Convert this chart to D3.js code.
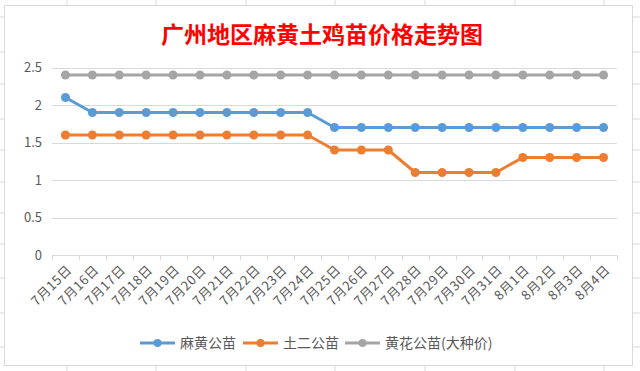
<!DOCTYPE html>
<html>
<head>
<meta charset="utf-8">
<script src="https://cdn.jsdelivr.net/npm/d3@7/dist/d3.min.js"></script>
<style>
  body { margin: 0; background: #fff; }
  svg { display: block; }
</style>
</head>
<body>
<div id="chart"></div>
<script>
// 数据
const dates = ["7月15日", "7月16日", "7月17日", "7月18日", "7月19日", "7月20日", "7月21日",
  "7月22日", "7月23日", "7月24日", "7月25日", "7月26日", "7月27日", "7月28日",
  "7月29日", "7月30日", "7月31日", "8月1日", "8月2日", "8月3日", "8月4日"];
const mahuang = [2.1, 1.9, 1.9, 1.9, 1.9, 1.9, 1.9, 1.9, 1.9, 1.9, 1.7, 1.7, 1.7, 1.7, 1.7, 1.7, 1.7, 1.7, 1.7, 1.7, 1.7];
const tuer = [1.6, 1.6, 1.6, 1.6, 1.6, 1.6, 1.6, 1.6, 1.6, 1.6, 1.4, 1.4, 1.4, 1.1, 1.1, 1.1, 1.1, 1.3, 1.3, 1.3, 1.3];
const huanghua = [2.4, 2.4, 2.4, 2.4, 2.4, 2.4, 2.4, 2.4, 2.4, 2.4, 2.4, 2.4, 2.4, 2.4, 2.4, 2.4, 2.4, 2.4, 2.4, 2.4, 2.4];
const seriesNames = ["麻黄公苗", "土二公苗", "黄花公苗(大种价)"];
const yTicks = [0, 0.5, 1, 1.5, 2, 2.5];

const colors = ["#5b9bd5", "#ed7d31", "#a5a5a5"];
const series = [mahuang, tuer, huanghua].map((vals, i) => ({ name: seriesNames[i], values: vals, color: colors[i] }));

const W = 640, H = 371;
const font = "'Noto Sans CJK SC', 'Noto Sans', sans-serif";
const gridColor = "#d9d9d9";
const textColor = "#595959";

const svg = d3.select("#chart").append("svg")
  .attr("width", W).attr("height", H);

// 表格背景网格
const colLines = [67, 156, 246, 335, 425, 515, 604];
const rowLines = [17, 52, 84, 119, 150, 182, 213, 244, 278, 313, 347];
svg.selectAll("line.col").data(colLines).enter().append("line")
  .attr("x1", d => d).attr("x2", d => d).attr("y1", 0).attr("y2", H)
  .attr("stroke", gridColor).attr("stroke-width", 1);
svg.selectAll("line.row").data(rowLines).enter().append("line")
  .attr("x1", 0).attr("x2", W).attr("y1", d => d).attr("y2", d => d)
  .attr("stroke", gridColor).attr("stroke-width", 1);

// 图表区
svg.append("rect")
  .attr("x", 4.5).attr("y", 5.5).attr("width", 628).attr("height", 360)
  .attr("fill", "#fff").attr("stroke", gridColor).attr("stroke-width", 1);

// 标题
svg.append("text")
  .attr("x", 322).attr("y", 43)
  .attr("text-anchor", "middle")
  .style("font-family", font)
  .style("font-size", "23px")
  .style("font-weight", "bold")
  .style("fill", "#ff0000")
  .text("广州地区麻黄土鸡苗价格走势图");

// 比例尺
const x = d3.scaleBand().domain(dates).range([52, 617]).padding(0);
const y = d3.scaleLinear().domain([0, 2.5]).range([255, 67.5]);

// 横向网格线
svg.append("g")
  .selectAll("line")
  .data(yTicks.filter(d => d > 0))
  .enter().append("line")
  .attr("x1", 52).attr("x2", 617)
  .attr("y1", d => Math.round(y(d)) + 0.5).attr("y2", d => Math.round(y(d)) + 0.5)
  .attr("stroke", gridColor).attr("stroke-width", 1);

// Y轴
const yAxis = svg.append("g")
  .attr("transform", "translate(52,0)")
  .call(d3.axisLeft(y).tickValues(yTicks).tickSize(0).tickPadding(10).tickFormat(d3.format("")));
yAxis.select(".domain").remove();
yAxis.selectAll("text")
  .style("font-family", font).style("font-size", "13px").style("fill", textColor);

// X轴
const xAxisG = svg.append("g").attr("transform", "translate(0,255.5)");
xAxisG.append("line")
  .attr("x1", 52).attr("x2", 617).attr("y1", 0).attr("y2", 0)
  .attr("stroke", gridColor).attr("stroke-width", 1);
const bounds = dates.map(d => x(d)).concat([x.range()[1]]);
xAxisG.selectAll("line.tick")
  .data(bounds).enter().append("line")
  .attr("class", "tick")
  .attr("x1", d => Math.round(d) + 0.5).attr("x2", d => Math.round(d) + 0.5)
  .attr("y1", 0).attr("y2", 5)
  .attr("stroke", gridColor).attr("stroke-width", 1);
xAxisG.selectAll("text")
  .data(dates).enter().append("text")
  .attr("transform", d => `translate(${x(d) + x.bandwidth() / 2 + 4},${12}) rotate(-45)`)
  .attr("text-anchor", "end")
  .attr("dy", "0.35em")
  .style("font-family", font).style("font-size", "13px").style("letter-spacing", "0.6px")
  .style("fill", textColor)
  .text(d => d);

// 折线
const line = d3.line()
  .x((d, i) => x(dates[i]) + x.bandwidth() / 2)
  .y(d => y(d));

series.forEach(s => {
  const g = svg.append("g");
  g.append("path")
    .datum(s.values)
    .attr("d", line)
    .attr("fill", "none")
    .attr("stroke", s.color)
    .attr("stroke-width", 3)
    .attr("stroke-linejoin", "round");
  g.selectAll("circle")
    .data(s.values).enter().append("circle")
    .attr("cx", (d, i) => x(dates[i]) + x.bandwidth() / 2)
    .attr("cy", d => y(d))
    .attr("r", 4.5)
    .attr("fill", s.color);
});

// 图例
const legendX = [140, 243, 345];
const legend = svg.append("g").attr("transform", "translate(0,343)");
series.forEach((s, i) => {
  const lg = legend.append("g").attr("transform", `translate(${legendX[i]},0)`);
  lg.append("line").attr("x1", 0).attr("x2", 35).attr("y1", 0).attr("y2", 0)
    .attr("stroke", s.color).attr("stroke-width", 3);
  lg.append("circle").attr("cx", 17.5).attr("cy", 0).attr("r", 4).attr("fill", s.color);
  lg.append("text").attr("x", 40).attr("y", 0).attr("dy", "0.35em")
    .style("font-family", font).style("font-size", "14px").style("fill", textColor)
    .text(s.name);
});
</script>
</body>
</html>
